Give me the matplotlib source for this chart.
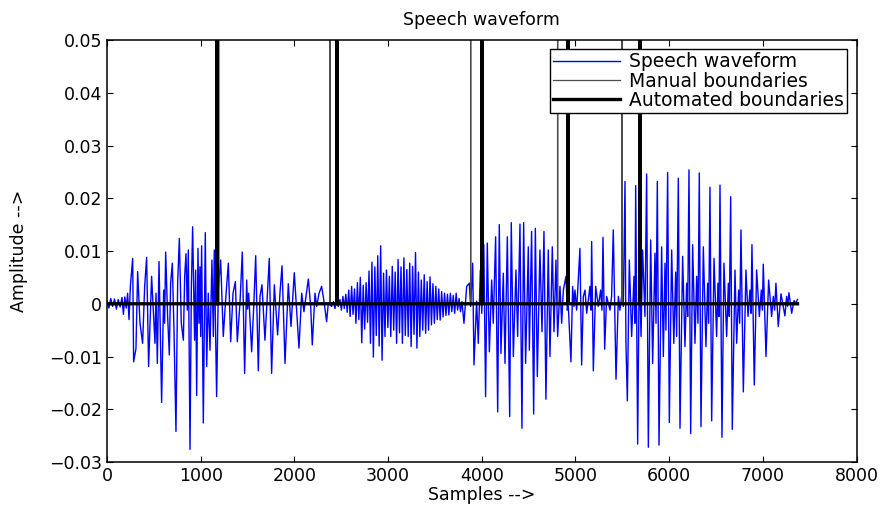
import matplotlib
matplotlib.use("Agg")
import matplotlib.pyplot as plt

# speech waveform, (sample, amplitude) points
onset = [(0, 0.0005), (20, -0.0008), (40, 0.0010), (60, -0.0005), (80, 0.0009),
         (100, -0.0010), (120, 0.0008), (140, -0.0006), (160, 0.0012), (175, -0.0020),
         (190, 0.0013), (205, -0.0008), (220, 0.0020), (235, -0.0030), (250, 0.0035)]

voiced1 = [(274, 0.0086), (284, -0.0110), (309, -0.0085), (327, 0.0061), (352, -0.0037),
           (380, -0.0075), (402, 0.0033), (423, 0.0088), (444, -0.0119), (476, 0.0052),
           (512, -0.0075), (523, 0.0020), (537, -0.0113), (555, 0.0080), (583, -0.0187),
           (605, 0.0026), (615, -0.0037), (626, 0.0098), (647, -0.0024), (665, -0.0097),
           (679, 0.0039), (697, 0.0077), (715, -0.0050), (736, -0.0242), (754, 0.0039),
           (772, 0.0124), (793, -0.0037), (815, -0.0069), (829, 0.0052), (843, 0.0095),
           (857, -0.0012), (868, 0.0102), (886, -0.0276), (900, 0.0026), (914, 0.0146),
           (935, -0.0069), (946, 0.0064), (957, -0.0174), (971, 0.0105), (982, -0.0037),
           (992, 0.0070), (1000, -0.0062), (1010, 0.0110), (1028, -0.0226), (1049, 0.0135),
           (1064, -0.0119), (1081, 0.0020), (1099, -0.0088), (1120, 0.0083), (1135, -0.0062),
           (1145, 0.0102), (1170, -0.0176), (1188, 0.0026), (1213, 0.0083), (1241, -0.0062),
           (1266, 0.0007), (1295, 0.0077), (1320, -0.0072), (1345, 0.0020), (1370, 0.0042),
           (1391, -0.0072), (1419, 0.0001), (1444, 0.0098), (1469, -0.0132), (1491, 0.0045),
           (1500, -0.0010), (1512, 0.0020), (1544, -0.0091), (1569, 0.0007), (1587, 0.0091),
           (1615, -0.0127), (1633, 0.0014), (1654, 0.0036), (1686, -0.0069), (1711, 0.0014),
           (1732, 0.0086), (1757, -0.0132), (1786, 0.0036), (1821, -0.0059), (1846, 0.0020),
           (1868, 0.0072), (1900, -0.0113), (1935, 0.0038), (1964, -0.0043), (1999, 0.0059),
           (2049, -0.0084), (2078, 0.0020), (2102, -0.0015), (2124, 0.0014), (2149, 0.0047),
           (2174, -0.0005), (2191, -0.0078), (2220, 0.0020), (2238, -0.0005), (2263, 0.0020),
           (2291, 0.0033), (2319, 0.0001), (2344, -0.0034), (2362, 0.0001), (2398, -0.0005),
           (2416, 0.0004), (2433, -0.0009), (2451, 0.0007), (2469, -0.0005)]

fricative = [(2487, 0.0008), (2502, -0.0012), (2518, 0.0014), (2533, -0.0009), (2549, 0.0018),
             (2564, -0.0016), (2580, 0.0026), (2595, -0.0024), (2611, 0.0033), (2626, -0.0020),
             (2642, 0.0028), (2657, -0.0037), (2673, 0.0040), (2688, -0.0030), (2704, 0.0050),
             (2719, -0.0074), (2735, 0.0035), (2750, -0.0048), (2766, 0.0040), (2781, -0.0035),
             (2797, 0.0062), (2812, -0.0075), (2828, 0.0079), (2843, -0.0101), (2859, 0.0070),
             (2874, -0.0060), (2890, 0.0091), (2905, -0.0080), (2921, 0.0110), (2936, -0.0107),
             (2952, 0.0058), (2967, -0.0062), (2983, 0.0064), (2998, -0.0045), (3014, 0.0052),
             (3029, -0.0062), (3045, 0.0071), (3060, -0.0050), (3076, 0.0060), (3091, -0.0075),
             (3107, 0.0084), (3122, -0.0055), (3138, 0.0070), (3153, -0.0075), (3169, 0.0087),
             (3184, -0.0060), (3200, 0.0065), (3215, -0.0062), (3231, 0.0077), (3246, -0.0081),
             (3262, 0.0071), (3277, -0.0058), (3293, 0.0097), (3308, -0.0084), (3324, 0.0060),
             (3339, -0.0062), (3355, 0.0045), (3370, -0.0050), (3386, 0.0055), (3401, -0.0056),
             (3417, 0.0042), (3432, -0.0050), (3448, 0.0051), (3463, -0.0040), (3479, 0.0038),
             (3494, -0.0037), (3510, 0.0033), (3525, -0.0030), (3541, 0.0028), (3556, -0.0031),
             (3572, 0.0023), (3587, -0.0025), (3603, 0.0020), (3618, -0.0022), (3634, 0.0018),
             (3649, -0.0021), (3665, 0.0020), (3680, -0.0015), (3696, 0.0016), (3711, -0.0018),
             (3727, 0.0020), (3742, -0.0012), (3758, 0.0010), (3773, -0.0015), (3789, 0.0004)]

voiced2 = [(3810, -0.0037), (3839, 0.0033), (3867, 0.0039), (3881, -0.0005), (3903, 0.0077),
           (3917, -0.0116), (3945, 0.0005), (3963, -0.0075), (3985, 0.0064), (4000, -0.0018),
           (4022, 0.0112), (4041, -0.0176), (4059, 0.0115), (4081, -0.0091), (4106, 0.0045),
           (4123, -0.0037), (4148, 0.0127), (4170, -0.0205), (4187, 0.0150), (4205, -0.0094),
           (4230, 0.0058), (4248, -0.0113), (4273, 0.0127), (4298, -0.0214), (4315, 0.0154),
           (4337, -0.0100), (4365, 0.0064), (4383, -0.0062), (4408, 0.0151), (4429, -0.0236),
           (4447, 0.0154), (4468, -0.0113), (4497, 0.0108), (4508, -0.0088), (4532, 0.0137),
           (4554, -0.0209), (4572, 0.0143), (4593, -0.0138), (4621, 0.0102), (4643, -0.0053),
           (4664, 0.0137), (4685, -0.0181), (4710, 0.0102), (4728, -0.0100), (4753, 0.0108),
           (4771, -0.0053), (4792, 0.0083), (4810, -0.0062), (4835, 0.0033), (4853, -0.0037),
           (4871, 0.0026), (4899, 0.0052), (4913, -0.0012), (4924, -0.0005), (4952, -0.0110),
           (4970, 0.0033), (4984, -0.0005), (4995, 0.0026), (5013, -0.0012), (5048, 0.0105),
           (5066, -0.0116), (5084, 0.0014), (5102, 0.0026), (5120, -0.0018), (5155, 0.0033),
           (5166, -0.0012), (5173, 0.0118), (5191, -0.0127), (5216, 0.0033), (5244, -0.0005),
           (5269, 0.0026), (5283, -0.0012), (5294, 0.0126), (5312, -0.0086), (5333, 0.0014),
           (5369, -0.0012), (5386, 0.0014), (5404, 0.0140), (5433, -0.0143), (5458, 0.0014),
           (5475, -0.0012), (5493, 0.0014), (5511, -0.0005)]

voiced3 = [(5529, 0.0232), (5539, -0.0075), (5554, -0.0184), (5575, 0.0083), (5600, -0.0062),
           (5625, 0.0052), (5635, -0.0037), (5643, 0.0224), (5664, -0.0266), (5682, 0.0083),
           (5700, -0.0062), (5717, 0.0102), (5742, -0.0024), (5760, 0.0246), (5778, -0.0272),
           (5803, 0.0121), (5824, -0.0113), (5849, 0.0096), (5860, -0.0037), (5874, 0.0232),
           (5892, -0.0268), (5920, 0.0108), (5938, -0.0100), (5956, 0.0077), (5966, -0.0050),
           (5984, 0.0249), (6002, -0.0225), (6027, 0.0102), (6050, -0.0075), (6070, 0.0060),
           (6080, -0.0062), (6098, 0.0238), (6116, -0.0236), (6144, 0.0090), (6169, -0.0081),
           (6187, 0.0039), (6198, -0.0024), (6212, 0.0254), (6230, -0.0246), (6251, 0.0112),
           (6276, -0.0075), (6294, 0.0052), (6308, -0.0037), (6322, 0.0248), (6340, -0.0233),
           (6365, 0.0108), (6393, -0.0081), (6411, 0.0039), (6422, -0.0037), (6436, 0.0221),
           (6454, -0.0222), (6479, 0.0086), (6507, -0.0062), (6521, 0.0039), (6532, -0.0024),
           (6543, 0.0225), (6564, -0.0253), (6585, 0.0077), (6614, -0.0062), (6632, 0.0039),
           (6642, -0.0024), (6657, 0.0203), (6674, -0.0238), (6703, 0.0064), (6721, -0.0075),
           (6742, 0.0026), (6753, -0.0037), (6767, 0.0140), (6792, -0.0167), (6820, 0.0064),
           (6842, -0.0024), (6863, 0.0026), (6874, -0.0018), (6884, 0.0112), (6909, -0.0154),
           (6934, 0.0064), (6963, -0.0024), (6984, 0.0026), (6995, -0.0012), (7005, 0.0075),
           (7034, -0.0100), (7062, 0.0045), (7094, -0.0024), (7112, 0.0014), (7126, -0.0012),
           (7140, 0.0039), (7165, -0.0043), (7194, 0.0019), (7236, -0.0023), (7254, 0.0014),
           (7265, -0.0005), (7279, 0.0021), (7308, -0.0018), (7333, 0.0006), (7350, 0.0001),
           (7370, 0.0008)]

n_samples = 7370
manual_bounds = [1192, 2380, 3882, 4810, 5497]
auto_bounds = [1174, 2455, 4002, 4921, 5689]

xticks = [0, 1000, 2000, 3000, 4000, 5000, 6000, 7000, 8000]
yticks = [-0.03, -0.02, -0.01, 0, 0.01, 0.02, 0.03, 0.04, 0.05]
ytick_labels = ['\u22120.03', '\u22120.02', '\u22120.01', '0', '0.01', '0.02', '0.03', '0.04', '0.05']


def boundary_signal(bounds, n):
    # zeros with a unit spike at each boundary sample, like plotting a 0/1 vector
    xs, ys = [0], [0]
    for b in bounds:
        xs += [b - 1, b, b + 1]
        ys += [0, 1, 0]
    xs.append(n)
    ys.append(0)
    return xs, ys


wave = onset + voiced1 + fricative + voiced2 + voiced3
wx = [p[0] for p in wave]
wy = [p[1] for p in wave]
mx, my = boundary_signal(manual_bounds, n_samples)
ax_, ay_ = boundary_signal(auto_bounds, n_samples)

plt.rcParams['font.family'] = ['DejaVu Sans']

fig = plt.figure(figsize=(8.8, 5.05), dpi=100)
ax = fig.add_axes([0.1216, 0.0851, 0.8517, 0.8356])

ax.plot(wx, wy, color='#0000ff', lw=1.0, label='Speech waveform')
ax.plot(mx, my, color='0.3', lw=0.9, label='Manual boundaries')
ax.plot(ax_, ay_, color='black', lw=2.4, label='Automated boundaries')

ax.set_xlim(0, 8000)
ax.set_ylim(-0.03, 0.05)
ax.set_xticks(xticks)
ax.set_xticklabels([str(t) for t in xticks])
ax.set_yticks(yticks)
ax.set_yticklabels(ytick_labels)
ax.tick_params(direction='in', top=True, right=True, length=4, width=0.8, labelsize=12.5)
for s in ax.spines.values():
    s.set_linewidth(1.1)

ax.set_title('Speech waveform', fontsize=12.5, pad=11)
ax.set_xlabel('Samples -->', fontsize=12.5)
ax.set_ylabel('Amplitude -->', fontsize=12.5)
ax.xaxis.set_label_coords(0.5, -0.057)
ax.yaxis.set_label_coords(-0.106, 0.5)

leg = ax.legend(loc='upper right', fontsize=13.5, fancybox=False, edgecolor='black',
                framealpha=1, borderaxespad=0.5, handlelength=3.6, handletextpad=0.5,
                labelspacing=0.02, borderpad=0.15)
leg.get_frame().set_linewidth(1.0)

fig.savefig('out.png', dpi=100)
